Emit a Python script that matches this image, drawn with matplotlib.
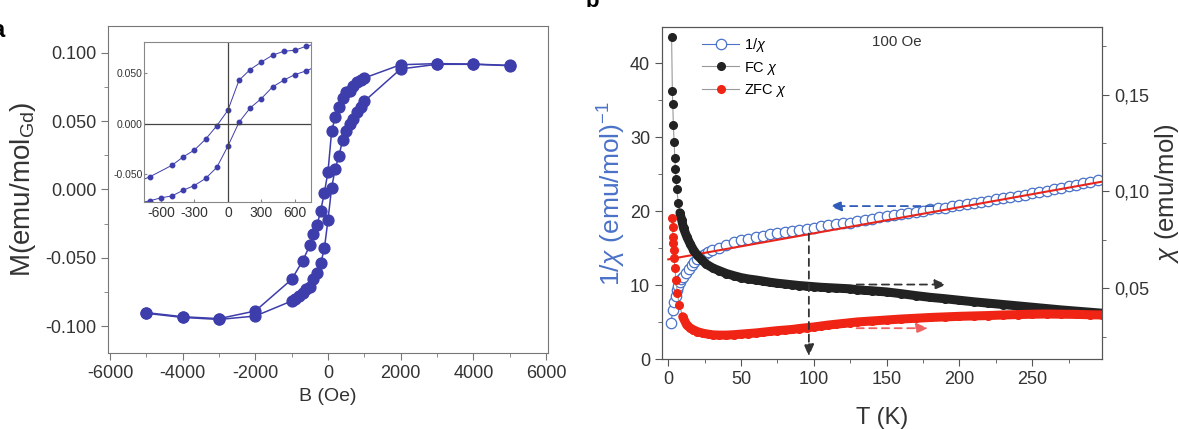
import numpy as np
import matplotlib.pyplot as plt
from matplotlib.ticker import MultipleLocator, FormatStrFormatter, FuncFormatter

plt.rcParams['font.family'] = ['Liberation Sans', 'DejaVu Sans']
plt.rcParams['mathtext.fontset'] = 'custom'
plt.rcParams['mathtext.rm'] = 'Liberation Sans'
plt.rcParams['mathtext.it'] = 'Liberation Sans:italic'
plt.rcParams['axes.unicode_minus'] = False

# ---- panel a: hysteresis loop M(B) ----
B_down = [5000, 4000, 3000, 2000, 1000, 900, 800, 700, 600, 500, 400, 300, 200, 100, 0,
          -100, -200, -300, -400, -500, -700, -1000, -2000, -3000, -4000, -5000]
M_down = [0.0907, 0.0917, 0.0920, 0.0912, 0.0815, 0.0803, 0.0786, 0.0758, 0.0719, 0.0709,
          0.0670, 0.0604, 0.0530, 0.0425, 0.0130, -0.0023, -0.0154, -0.0260, -0.0327,
          -0.0409, -0.0523, -0.0657, -0.0888, -0.0944, -0.0930, -0.0900]
B_up = [-5000, -4000, -3000, -2000, -1000, -900, -800, -700, -600, -500, -400, -300, -200,
        -100, 0, 100, 200, 300, 400, 500, 600, 700, 800, 900, 1000, 2000, 3000, 4000, 5000]
M_up = [-0.0905, -0.0935, -0.0950, -0.0925, -0.0815, -0.0800, -0.0780, -0.0758, -0.0729,
        -0.0710, -0.0654, -0.0608, -0.0539, -0.0431, -0.0222, 0.0013, 0.0153, 0.0245,
        0.0359, 0.0425, 0.0480, 0.0516, 0.0564, 0.0600, 0.0645, 0.0881, 0.0915, 0.0915, 0.0905]

# ---- panel b: susceptibility vs T ----
T_inv = [2, 3, 4, 5, 6, 7, 8, 9, 10, 12, 14, 16, 18, 20, 22.5, 25, 27.5, 30, 35, 40, 45, 50,
         55, 60, 65, 70, 75, 80, 85, 90, 95, 100, 105, 110, 115, 120, 125, 130, 135, 140,
         145, 150, 155, 160, 165, 170, 175, 180, 185, 190, 195, 200, 205, 210, 215, 220,
         225, 230, 235, 240, 245, 250, 255, 260, 265, 270, 275, 280, 285, 290, 295]
inv_chi = [4.9, 6.7, 7.8, 8.5, 9.3, 9.9, 10.4, 10.8, 11.1, 11.7, 12.25, 12.75, 13.2, 13.55,
           13.9, 14.25, 14.5, 14.75, 15.1, 15.5, 15.8, 16.1, 16.3, 16.5, 16.7, 16.9, 17.05,
           17.2, 17.3, 17.45, 17.6, 17.75, 17.95, 18.1, 18.25, 18.4, 18.45, 18.65, 18.8,
           19.0, 19.2, 19.35, 19.5, 19.65, 19.8, 19.95, 20.1, 20.25, 20.4, 20.5, 20.65, 20.8,
           20.95, 21.1, 21.25, 21.4, 21.6, 21.75, 21.9, 22.1, 22.25, 22.45, 22.6, 22.8, 23.0,
           23.2, 23.4, 23.6, 23.8, 24.0, 24.2]
T_fit = [0, 298]
inv_fit = [13.5, 24.0]

T_fc = [2.3, 2.8, 3.1, 3.5, 4.0, 4.5, 4.9, 5.3, 5.8, 6.9, 8, 9.2, 10.5, 12.7, 15, 17.3, 20,
        23, 26, 31, 35, 40, 45, 50, 55, 60, 65, 70, 75, 80, 85, 90, 95, 100, 105, 110, 115,
        120, 125, 130, 135, 140, 145, 150, 160, 170, 180, 190, 200, 210, 220, 230, 240, 250,
        260, 270, 280, 290, 298]
chi_fc = [0.1796, 0.1517, 0.1451, 0.1344, 0.1255, 0.1172, 0.1117, 0.1065, 0.1015, 0.0940,
          0.0890, 0.0853, 0.0810, 0.0767, 0.0730, 0.0698, 0.0670, 0.0647, 0.0625, 0.0603,
          0.0591, 0.0576, 0.0565, 0.0555, 0.0548, 0.0543, 0.0537, 0.0531, 0.0526, 0.0522,
          0.0518, 0.0514, 0.0511, 0.0508, 0.0505, 0.0503, 0.0501, 0.0499, 0.0497, 0.0492,
          0.0489, 0.0487, 0.0484, 0.0481, 0.0472, 0.0462, 0.0453, 0.0446, 0.0438, 0.0430,
          0.0423, 0.0416, 0.0409, 0.0402, 0.0395, 0.0388, 0.0382, 0.0376, 0.0371]

T_zfc = [2.5, 3.0, 3.2, 3.5, 3.8, 4.1, 4.6, 5.3, 6.2, 7.6, 9.9, 12.7, 15, 17.3, 20, 24, 28,
         31, 35, 40, 45, 50, 55, 60, 65, 70, 75, 80, 85, 90, 95, 100, 105, 110, 115, 120,
         125, 130, 140, 150, 160, 170, 180, 190, 200, 210, 220, 230, 240, 250, 260, 270,
         280, 290, 298]
chi_zfc = [0.0862, 0.0819, 0.0767, 0.0733, 0.0698, 0.0655, 0.0603, 0.0543, 0.0474, 0.0414,
           0.0353, 0.0310, 0.0295, 0.0285, 0.0276, 0.0267, 0.0262, 0.0259, 0.0258, 0.0258,
           0.0260, 0.0263, 0.0266, 0.0269, 0.0273, 0.0277, 0.0281, 0.0284, 0.0287, 0.0292,
           0.0296, 0.0300, 0.0305, 0.0310, 0.0314, 0.0318, 0.0322, 0.0326, 0.0331, 0.0336,
           0.0341, 0.0345, 0.0349, 0.0352, 0.0355, 0.0357, 0.0359, 0.0362, 0.0364, 0.0366,
           0.0367, 0.0366, 0.0365, 0.0363, 0.0362]

hyst_col = '#3d3dab'
blue = '#4a72c8'
tick_col = '#333333'

fig = plt.figure(figsize=(11.79, 4.29), dpi=100)

# ---------------- panel a ----------------
ax1 = fig.add_axes([0.0916, 0.1772, 0.3732, 0.7622])
ax1.plot(B_down, M_down, '-o', color=hyst_col, ms=7.8, lw=1.1)
ax1.plot(B_up, M_up, '-o', color=hyst_col, ms=7.8, lw=1.1)
ax1.set_xlim(-6055, 6055)
ax1.set_ylim(-0.1195, 0.1195)
ax1.xaxis.set_major_locator(MultipleLocator(2000))
ax1.xaxis.set_minor_locator(MultipleLocator(1000))
ax1.yaxis.set_major_locator(MultipleLocator(0.05))
ax1.yaxis.set_minor_locator(MultipleLocator(0.025))
ax1.yaxis.set_major_formatter(FormatStrFormatter('%.3f'))
ax1.tick_params(which='both', direction='out', colors='#777777', labelcolor=tick_col,
                labelsize=13, top=False, right=False)
ax1.tick_params(which='major', length=5)
ax1.tick_params(which='minor', length=3)
for s in ax1.spines.values():
    s.set_color('#777777')
ax1.set_xlabel('B (Oe)', fontsize=14, color=tick_col)
ax1.xaxis.set_label_coords(0.5, -0.107)
ax1.set_ylabel(r'M(emu/mol$_{\mathrm{Gd}}$)', fontsize=20, color=tick_col)
ax1.yaxis.set_label_coords(-0.158, 0.5)

# inset
axi = fig.add_axes([0.1221, 0.5291, 0.1417, 0.373])
axi.plot(B_down, M_down, '-o', color=hyst_col, ms=3.2, lw=0.7)
axi.plot(B_up, M_up, '-o', color=hyst_col, ms=3.2, lw=0.7)
axi.axhline(0, color='#444444', lw=0.9)
axi.axvline(0, color='#444444', lw=0.9)
axi.set_xlim(-752, 745)
axi.set_ylim(-0.077, 0.080)
axi.set_xticks([-600, -300, 0, 300, 600])
axi.set_yticks([-0.05, 0.0, 0.05])
axi.yaxis.set_major_formatter(FormatStrFormatter('%.3f'))
axi.tick_params(direction='in', length=2, colors='#888888', labelcolor=tick_col, pad=3)
axi.tick_params(axis='x', labelsize=10)
axi.tick_params(axis='y', labelsize=7.5, pad=1)
for s in axi.spines.values():
    s.set_color('#888888')

fig.text(0.0034, 0.928, 'a', fontsize=17, fontweight='bold', ha='right', va='center')

# ---------------- panel b ----------------
ax = fig.add_axes([0.5615, 0.1625, 0.3732, 0.7746])
ax2 = ax.twinx()

l_inv, = ax.plot(T_inv, inv_chi, '-o', color=blue, lw=0.8, ms=7.5, mfc='white', mec=blue,
                 mew=0.9, label=r'1/$\chi$')
ax.plot(T_fit, inv_fit, color='#e8251b', lw=1.5)

# thin line + markers everywhere, thick band on top where the points overlap
l_fc, = ax2.plot(T_fc, chi_fc, '-o', color='#999999', lw=0.8, ms=5.5, mfc='#222222',
                 mec='#222222', label=r'FC $\chi$')
ax2.plot(T_fc[10:], chi_fc[10:], color='#222222', lw=6.5, solid_capstyle='round')
l_zfc, = ax2.plot(T_zfc, chi_zfc, '-o', color='#999999', lw=0.8, ms=5.5, mfc='#f02414',
                  mec='#f02414', label=r'ZFC $\chi$')
ax2.plot(T_zfc[10:], chi_zfc[10:], color='#f02414', lw=6.5, solid_capstyle='round')

ax.set_xlim(-4.3, 298)
ax.set_ylim(0, 44.9)
ax2.set_ylim(0.0133, 0.185)
ax.xaxis.set_major_locator(MultipleLocator(50))
ax.xaxis.set_minor_locator(MultipleLocator(25))
ax.yaxis.set_major_locator(MultipleLocator(10))
ax.yaxis.set_minor_locator(MultipleLocator(5))
ax2.yaxis.set_major_locator(MultipleLocator(0.05))
ax2.yaxis.set_minor_locator(MultipleLocator(0.025))
ax2.yaxis.set_major_formatter(FuncFormatter(lambda v, p: f'{v:.2f}'.replace('.', ',')))
for a in (ax, ax2):
    a.tick_params(which='both', direction='out', colors='#555555', labelcolor=tick_col,
                  labelsize=13)
    a.tick_params(which='major', length=5)
    a.tick_params(which='minor', length=3)
    for s in a.spines.values():
        s.set_color('#555555')

ax.set_xlabel('T (K)', fontsize=17, color=tick_col)
ax.xaxis.set_label_coords(0.5, -0.143)
ax.set_ylabel(r'1/$\chi$ (emu/mol)$^{-1}$', fontsize=19, color=blue)
ax.yaxis.set_label_coords(-0.077, 0.5)
ax2.set_ylabel(r'$\chi$ (emu/mol)', fontsize=18.5, color=tick_col)
ax2.yaxis.set_label_coords(1.116, 0.5)

# dashed guide arrows (left-axis data coordinates)
def guide(x0, y0, x1, y1, col):
    ax2.annotate('', xy=(x1, y1), xytext=(x0, y0), xycoords=ax.transData,
                 textcoords=ax.transData,
                 arrowprops=dict(arrowstyle='-|>,head_length=0.7,head_width=0.3',
                                 linestyle=(0, (4, 3)), color=col, lw=1.3,
                                 shrinkA=0, shrinkB=0))

guide(182, 20.7, 111, 20.7, '#2f5cb8')
guide(129.4, 10.1, 191.2, 10.1, '#333333')
guide(129.4, 4.2, 178.6, 4.2, '#f06060')
guide(96.6, 17.0, 96.6, 0.4, '#333333')

ax2.text(157, 42.9, '100 Oe', transform=ax.transData, fontsize=10.8, color=tick_col,
         ha='center', va='center')

ax2.legend([l_inv, l_fc, l_zfc], [r'1/$\chi$', r'FC $\chi$', r'ZFC $\chi$'],
           loc='upper left', bbox_to_anchor=(0.07, 1.0), frameon=False, fontsize=10.5,
           handlelength=2.6, handletextpad=0.3, labelspacing=0.4, borderaxespad=0.2)

fig.text(0.502, 0.984, 'b', fontsize=16, fontweight='bold', ha='center', va='baseline')

fig.savefig('out.png', dpi=100)
